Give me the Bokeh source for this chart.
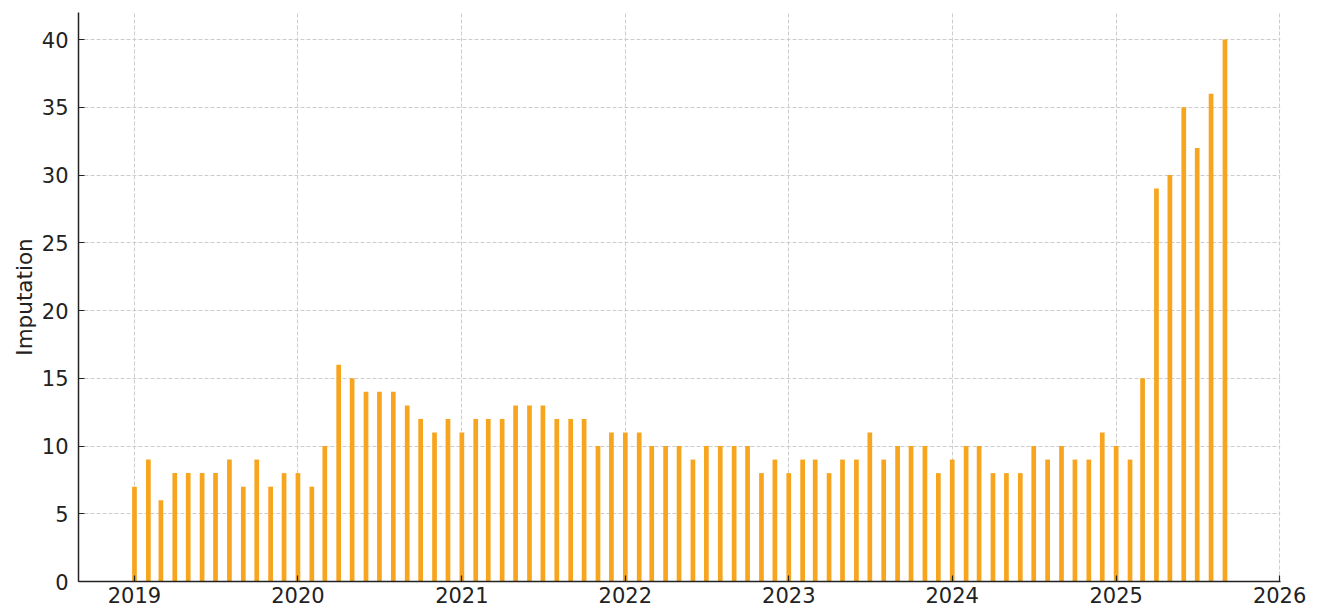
from datetime import datetime
from bokeh.plotting import figure
from bokeh.models import ColumnDataSource, FixedTicker, DatetimeTickFormatter, Range1d
from bokeh.embed import file_html
from bokeh.resources import INLINE

# ---- data ----
years = [2019, 2020, 2021, 2022, 2023, 2024, 2025]
values_2019 = [7, 9, 6, 8, 8, 8, 8, 9, 7, 9, 7, 8]
values_2020 = [8, 7, 10, 16, 15, 14, 14, 14, 13, 12, 11, 12]
values_2021 = [11, 12, 12, 12, 13, 13, 13, 12, 12, 12, 10, 11]
values_2022 = [11, 11, 10, 10, 10, 9, 10, 10, 10, 10, 8, 9]
values_2023 = [8, 9, 9, 8, 9, 9, 11, 9, 10, 10, 10, 8]
values_2024 = [9, 10, 10, 8, 8, 8, 10, 9, 10, 9, 9, 11]
values_2025 = [10, 9, 15, 29, 30, 35, 32, 36, 40]
tick_years = [2019, 2020, 2021, 2022, 2023, 2024, 2025, 2026]
y_ticks = [0, 5, 10, 15, 20, 25, 30, 35, 40]
y_label = "Imputation"

all_values = [values_2019, values_2020, values_2021, values_2022,
              values_2023, values_2024, values_2025]

dates = []
vals = []
for yr, vs in zip(years, all_values):
    for m, v in enumerate(vs, start=1):
        dates.append(datetime(yr, m, 1))
        vals.append(v)

src = ColumnDataSource(data=dict(date=dates, value=vals))

def ms(dt):
    return (dt - datetime(1970, 1, 1)).total_seconds() * 1000.0

DAY = 86400000.0
FONT = "DejaVu Sans"
TXT = "#222222"

p = figure(
    width=1320, height=609,
    x_axis_type="datetime",
    output_backend="svg", toolbar_location=None,
    min_border_left=78, min_border_right=40, min_border_top=12, min_border_bottom=28,
)
p.x_range = Range1d(ms(datetime(2018, 8, 29)), ms(datetime(2026, 1, 3)))
p.y_range = Range1d(0, 42)

p.vbar(x="date", top="value", width=10.5 * DAY, source=src,
       fill_color="#F7A51E", line_color=None)

p.xaxis.ticker = FixedTicker(ticks=[ms(datetime(y, 1, 1)) for y in tick_years])
p.xaxis.formatter = DatetimeTickFormatter(
    years="%Y", months="%Y", days="%Y", hours="%Y", minutes="%Y",
    seconds="%Y", milliseconds="%Y", minsec="%Y", hourmin="%Y")
p.yaxis.ticker = FixedTicker(ticks=y_ticks)

p.yaxis.axis_label = y_label
p.yaxis.axis_label_text_font = FONT
p.yaxis.axis_label_text_font_size = "21.5px"
p.yaxis.axis_label_text_font_style = "normal"
p.yaxis.axis_label_text_color = TXT
p.yaxis.axis_label_standoff = 2

for ax in (p.xaxis, p.yaxis):
    ax.major_label_text_font = FONT
    ax.major_label_text_font_size = "21px"
    ax.major_label_text_color = TXT
    ax.axis_line_color = TXT
    ax.axis_line_width = 1.5
    ax.major_tick_line_color = TXT
    ax.major_tick_line_width = 1.2
    ax.major_tick_in = 6
    ax.major_tick_out = 0
    ax.minor_tick_line_color = None

p.xaxis.major_label_standoff = 5
p.yaxis.major_label_standoff = 10

for g in (p.xgrid, p.ygrid):
    g.grid_line_color = "#cccccc"
    g.grid_line_dash = "4 2"
    g.grid_line_width = 1

p.outline_line_color = None
p.background_fill_color = "white"
p.border_fill_color = "white"

open("out.html", "w").write(file_html(p, INLINE))
